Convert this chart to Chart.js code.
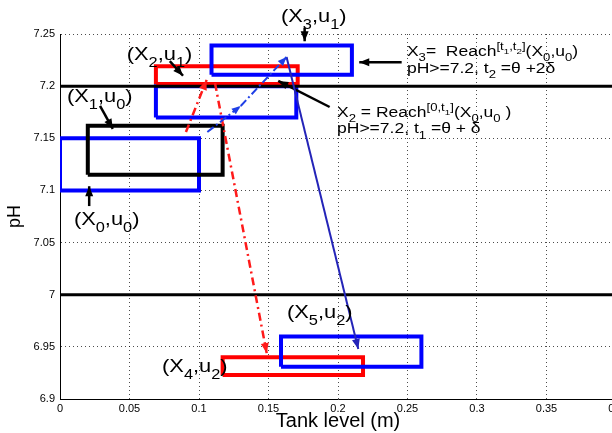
<!DOCTYPE html>
<html>
<head>
<meta charset="utf-8">
<script src="https://cdn.jsdelivr.net/npm/chart.js@4"></script>
<style>
html, body { margin: 0; padding: 0; background: #fff; overflow: hidden; }
</style>
</head>
<body>
<canvas id="myChart" width="640" height="433"></canvas>
<script>
'use strict';
// axis ticks
let xTicks = [0, 0.05, 0.1, 0.15, 0.2, 0.25, 0.3, 0.35, 0.4];
let yTicks = [6.9, 6.95, 7, 7.05, 7.1, 7.15, 7.2, 7.25];

// reach set boxes (tank level x pH)
let boxNames = ['X0u0', 'X1u0', 'X2', 'X2u1', 'X3u1', 'X4u2', 'X5u2'];
let boxXMin = [0, 0.02, 0.069, 0.069, 0.109, 0.117, 0.159];
let boxXMax = [0.1, 0.117, 0.17, 0.171, 0.21, 0.218, 0.26];
let boxYMin = [7.1, 7.115, 7.17, 7.202, 7.211, 6.923, 6.931];
let boxYMax = [7.15, 7.162, 7.2, 7.219, 7.239, 6.94, 6.96];
let boxColor = ['#0000ff', '#000000', '#0000ff', '#ff0000', '#0000ff', '#ff0000', '#0000ff'];

// pH limits
let thresholds = [7.2, 7.0];

// arrows
let arrowFromX = [0.106, 0.130, 0.163, 0.0906, 0.1115, 0.0288, 0.021, 0.079, 0.176, 0.2458, 0.194];
let arrowFromY = [7.156, 7.181, 7.228, 7.156, 7.203, 7.181, 7.085, 7.224, 7.256, 7.223, 7.18];
let arrowToX = [0.130, 0.163, 0.2146, 0.1055, 0.1487, 0.038, 0.021, 0.0885, 0.176, 0.2153, 0.157];
let arrowToY = [7.181, 7.228, 6.948, 7.206, 6.944, 7.159, 7.104, 7.21, 7.243, 7.223, 7.205];
let arrowKind = ['blueDash', 'blueDash', 'blueSolid', 'redDash', 'redDash', 'black', 'black', 'black', 'black', 'black', 'black'];

// text annotations (left x, baseline y)
let labelTexts = ['(X_1,u_0)', '(X_0,u_0)', '(X_2,u_1)', '(X_3,u_1)', '(X_4,u_2)', '(X_5,u_2)',
    'X_3=  Reach^{[t_1,t_2]}(X_0,u_0)', 'pH>=7.2, t_2 =\u03b8 +2\u03b4',
    'X_2 = Reach^{[0,t_1]}(X_0,u_0 )', 'pH>=7.2, t_1 =\u03b8 + \u03b4'];
let labelX = [0.005, 0.010, 0.048, 0.159, 0.0734, 0.1633, 0.2496, 0.2496, 0.1993, 0.1993];
let labelY = [7.185, 7.067, 7.225, 7.2615, 6.9262, 6.978, 7.229, 7.213, 7.1705, 7.1547];
let labelBig = [true, true, true, true, true, true, false, false, false, false];

const styles = {
    blueDash: { color: '#1f3fe6', width: 2, dash: [8, 3, 2, 3], head: 9 },
    blueSolid: { color: '#2424b8', width: 2, dash: [], head: 10 },
    redDash: { color: '#ff1a1a', width: 2.5, dash: [8, 4, 2, 4], head: 10 },
    black: { color: '#000000', width: 2.5, dash: [], head: 10 }
};

let datasets = [];
for (let i = 0; i < arrowFromX.length; i++) {
    let st = styles[arrowKind[i]];
    datasets.push({
        data: [{ x: arrowFromX[i], y: arrowFromY[i] }, { x: arrowToX[i], y: arrowToY[i] }],
        borderColor: st.color,
        borderWidth: st.width,
        borderDash: st.dash,
        clip: false,
        order: 0
    });
}
for (let i = 0; i < thresholds.length; i++) {
    datasets.push({
        data: [{ x: 0, y: thresholds[i] }, { x: 0.4, y: thresholds[i] }],
        borderColor: '#000',
        borderWidth: 3,
        order: 1
    });
}
for (let i = 0; i < boxNames.length; i++) {
    datasets.push({
        label: boxNames[i],
        data: [
            { x: boxXMin[i], y: boxYMin[i] },
            { x: boxXMax[i], y: boxYMin[i] },
            { x: boxXMax[i], y: boxYMax[i] },
            { x: boxXMin[i], y: boxYMax[i] },
            { x: boxXMin[i], y: boxYMin[i] }
        ],
        borderColor: boxColor[i],
        borderWidth: 4,
        borderJoinStyle: 'miter',
        order: 20 - i
    });
}

// draws text with _sub and ^sup groups
function richText(ctx, str, x, y, size, draw) {
    let i = 0, cx = x;
    while (i < str.length) {
        let c = str[i];
        if (c === '_' || c === '^') {
            let grp;
            i++;
            if (str[i] === '{') {
                let depth = 1, j = i + 1;
                while (depth) {
                    if (str[j] === '{') depth++;
                    else if (str[j] === '}') depth--;
                    j++;
                }
                grp = str.slice(i + 1, j - 1);
                i = j;
            } else {
                grp = str[i];
                i++;
            }
            let dy = c === '_' ? size * 0.38 : -size * 0.45;
            cx += richText(ctx, grp, cx, y + dy, size * 0.75, draw);
        } else {
            let j = i;
            while (j < str.length && str[j] !== '_' && str[j] !== '^') j++;
            let t = str.slice(i, j);
            ctx.font = size + 'px "Liberation Sans", Arial, sans-serif';
            if (draw) ctx.fillText(t, cx, y);
            cx += ctx.measureText(t).width;
            i = j;
        }
    }
    return cx - x;
}

const annotate = {
    id: 'annotate',
    afterDatasetsDraw(chart) {
        let ctx = chart.ctx;
        let xs = chart.scales.x, ys = chart.scales.y;
        // arrow heads
        for (let i = 0; i < arrowFromX.length; i++) {
            let st = styles[arrowKind[i]];
            let x0 = xs.getPixelForValue(arrowFromX[i]), y0 = ys.getPixelForValue(arrowFromY[i]);
            let x1 = xs.getPixelForValue(arrowToX[i]), y1 = ys.getPixelForValue(arrowToY[i]);
            let a = Math.atan2(y1 - y0, x1 - x0);
            let L = st.head, W = st.head * 0.4;
            ctx.save();
            ctx.fillStyle = st.color;
            ctx.beginPath();
            ctx.moveTo(x1, y1);
            ctx.lineTo(x1 - L * Math.cos(a) + W * Math.sin(a), y1 - L * Math.sin(a) - W * Math.cos(a));
            ctx.lineTo(x1 - L * Math.cos(a) - W * Math.sin(a), y1 - L * Math.sin(a) + W * Math.cos(a));
            ctx.closePath();
            ctx.fill();
            ctx.restore();
        }
        // labels
        for (let i = 0; i < labelTexts.length; i++) {
            let px = xs.getPixelForValue(labelX[i]), py = ys.getPixelForValue(labelY[i]);
            ctx.save();
            ctx.fillStyle = '#000';
            ctx.textBaseline = 'alphabetic';
            ctx.translate(px, py);
            ctx.scale(labelBig[i] ? 1.15 : 1.25, 1);
            richText(ctx, labelTexts[i], 0, 0, labelBig[i] ? 19 : 14, true);
            ctx.restore();
        }
    }
};

function fmt(v) {
    return String(Number(v.toFixed(2)));
}

let ctx = document.getElementById('myChart').getContext('2d');
let myChart = new Chart(ctx, {
    type: 'scatter',
    data: { datasets: datasets },
    options: {
        responsive: false,
        animation: false,
        devicePixelRatio: 1,
        showLine: true,
        elements: { point: { radius: 0, hoverRadius: 0 }, line: { tension: 0 } },
        layout: { padding: { top: 34, right: 24, left: 0, bottom: 0 } },
        plugins: { legend: { display: false }, tooltip: { enabled: false } },
        scales: {
            x: {
                type: 'linear',
                min: 0,
                max: 0.4,
                afterBuildTicks: (scale) => { scale.ticks = xTicks.map(v => ({ value: v })); },
                afterFit: (scale) => { scale.height = 34; },
                ticks: {
                    callback: fmt,
                    color: '#000',
                    padding: 3,
                    maxRotation: 0,
                    font: { family: '"Liberation Sans", Arial', size: 11 }
                },
                grid: { color: 'rgba(0,0,0,0.7)', drawTicks: false },
                border: { display: true, color: '#000', width: 1, dash: [1, 3] },
                title: {
                    display: true,
                    text: 'Tank level (m)',
                    color: '#000',
                    padding: 0,
                    font: { family: '"Liberation Sans", Arial', size: 20 }
                }
            },
            y: {
                type: 'linear',
                min: 6.9,
                max: 7.25,
                afterBuildTicks: (scale) => { scale.ticks = yTicks.map(v => ({ value: v })); },
                afterFit: (scale) => { scale.width = 60; },
                ticks: {
                    callback: fmt,
                    color: '#000',
                    padding: 5,
                    font: { family: '"Liberation Sans", Arial', size: 11 }
                },
                grid: { color: 'rgba(0,0,0,0.7)', drawTicks: false },
                border: { display: true, color: '#000', width: 1, dash: [1, 3] },
                title: {
                    display: true,
                    text: 'pH',
                    color: '#000',
                    padding: 4,
                    font: { family: '"Liberation Sans", Arial', size: 18 }
                }
            }
        }
    },
    plugins: [annotate]
});
</script>
</body>
</html>
